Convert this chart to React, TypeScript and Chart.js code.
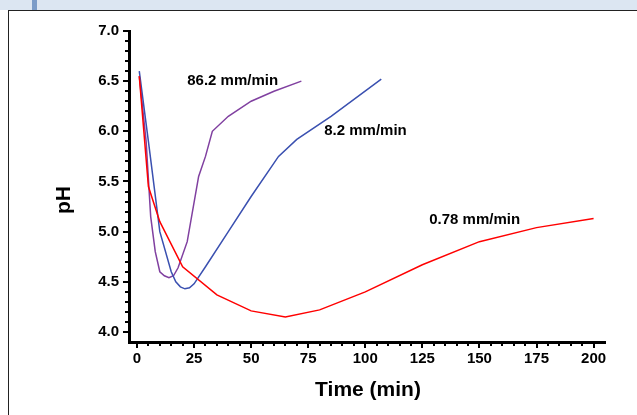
import React, { useEffect, useRef } from "react";
import { Chart, registerables } from "chart.js";
Chart.register(...registerables);

const redT = [1, 5, 10, 20, 35, 50, 65, 80, 100, 125, 150, 175, 200];
const redPH = [6.55, 5.45, 5.1, 4.65, 4.37, 4.21, 4.15, 4.22, 4.4, 4.67, 4.9, 5.04, 5.13];
const blueT = [1, 5, 10, 15, 17, 19, 21, 23, 25, 30, 40, 50, 62, 70, 85, 107];
const bluePH = [6.6, 5.9, 5.0, 4.6, 4.5, 4.45, 4.43, 4.44, 4.48, 4.65, 5.0, 5.35, 5.75, 5.92, 6.15, 6.52];
const purpleT = [1, 4, 6, 8, 10, 12, 14, 16, 18, 22, 27, 30, 33, 40, 50, 60, 72];
const purplePH = [6.55, 5.9, 5.15, 4.8, 4.6, 4.56, 4.54, 4.56, 4.64, 4.9, 5.55, 5.75, 6.0, 6.15, 6.3, 6.4, 6.5];
const xTicks = [0, 25, 50, 75, 100, 125, 150, 175, 200];
const yTicks = [4.0, 4.5, 5.0, 5.5, 6.0, 6.5, 7.0];
const labels = [
  { text: "86.2 mm/min", x: 22, y: 6.5 },
  { text: "8.2 mm/min", x: 82, y: 6.0 },
  { text: "0.78 mm/min", x: 128, y: 5.12 },
];

const pts = (t: number[], v: number[]) => t.map((x, i) => ({ x, y: v[i] }));

export default function App() {
  const ref = useRef<HTMLCanvasElement>(null);
  useEffect(() => {
    const font = { family: "Arial, Liberation Sans", weight: "bold" as const, size: 15 };
    const extras = {
      id: "extras",
      afterDraw(c: any) {
        const ctx = c.ctx, xs = c.scales.x, ys = c.scales.y;
        ctx.save();
        ctx.strokeStyle = "#000";
        ctx.lineWidth = 2;
        for (let v = 4.0; v <= 7.001; v += 0.1) {
          const py = Math.round(ys.getPixelForValue(v));
          ctx.beginPath(); ctx.moveTo(c.chartArea.left - 4, py); ctx.lineTo(c.chartArea.left, py); ctx.stroke();
        }
        for (let v = 0; v <= 200; v += 5) {
          const px = Math.round(xs.getPixelForValue(v));
          ctx.beginPath(); ctx.moveTo(px, c.chartArea.bottom); ctx.lineTo(px, c.chartArea.bottom + 4); ctx.stroke();
        }
        ctx.fillStyle = "#000";
        ctx.font = "bold 15px Arial, Liberation Sans";
        ctx.textBaseline = "middle";
        ctx.textAlign = "left";
        for (const l of labels) ctx.fillText(l.text, xs.getPixelForValue(l.x), ys.getPixelForValue(l.y));
        ctx.font = "bold 21px Arial, Liberation Sans";
        ctx.textAlign = "center";
        ctx.fillText("Time (min)", 368, 390);
        ctx.translate(64, 200);
        ctx.rotate(-Math.PI / 2);
        ctx.fillText("pH", 0, 0);
        ctx.restore();
      },
    };
    const ds = (data: any, color: string) => ({
      data, borderColor: color, borderWidth: 1.5, pointRadius: 0, tension: 0, fill: false,
    });
    const chart = new Chart(ref.current!, {
      type: "line",
      data: {
        datasets: [
          ds(pts(redT, redPH), "#ff0000"),
          ds(pts(blueT, bluePH), "#3a50b0"),
          ds(pts(purpleT, purplePH), "#8040a0"),
        ],
      },
      options: {
        animation: false,
        responsive: false,
        layout: { padding: { top: 31, right: 32, left: 0, bottom: 0 } },
        plugins: { legend: { display: false }, tooltip: { enabled: false } },
        scales: {
          x: {
            type: "linear", min: -3.5, max: 205,
            afterBuildTicks: (s: any) => { s.ticks = xTicks.map((value) => ({ value })); },
            afterFit: (s: any) => { s.height = 73; },
            border: { color: "#000", width: 3 },
            grid: { drawOnChartArea: false, color: "#000", lineWidth: 2, tickLength: 6 },
            ticks: { color: "#000", font, padding: 2, maxRotation: 0 },
          },
          y: {
            type: "linear", min: 3.9, max: 7.0,
            afterBuildTicks: (s: any) => { s.ticks = yTicks.map((value) => ({ value })); },
            afterFit: (s: any) => { s.width = 129; },
            border: { color: "#000", width: 3 },
            grid: { drawOnChartArea: false, color: "#000", lineWidth: 2, tickLength: 6 },
            ticks: { color: "#000", font, padding: 4, callback: (v: any) => Number(v).toFixed(1) },
          },
        },
      },
      plugins: [extras],
    });
    return () => chart.destroy();
  }, []);
  return (
    <div style={{ position: "fixed", left: 0, top: 0, width: 637, height: 415, background: "#fff", overflow: "hidden" }}>
      <div style={{ position: "absolute", left: 0, top: 0, width: 637, height: 10, background: "#dce6f2" }} />
      <div style={{ position: "absolute", left: 32, top: 0, width: 5, height: 10, background: "#7c9cc8" }} />
      <div style={{ position: "absolute", left: 8, top: 10, width: 640, height: 420, border: "1px solid #222", boxSizing: "border-box" }} />
      <canvas ref={ref} width={637} height={415} style={{ position: "absolute", left: 0, top: 0 }} />
    </div>
  );
}
